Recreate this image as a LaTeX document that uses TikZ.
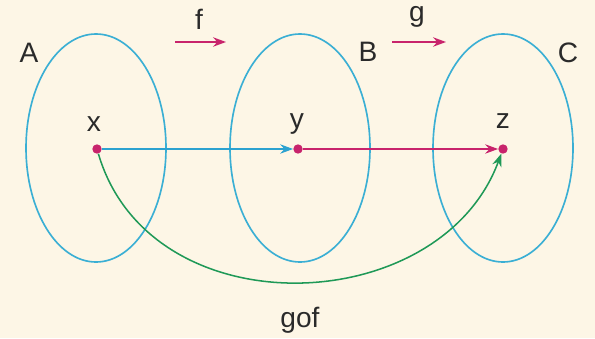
\documentclass[tikz,border=0pt]{standalone}
\usepackage{fontspec}
\setmainfont{Liberation Sans}
\usetikzlibrary{arrows.meta}
\definecolor{bgc}{HTML}{FDF6E6}
\definecolor{setc}{HTML}{3AAFD4}
\definecolor{fc}{HTML}{2CA2D0}
\definecolor{gc}{HTML}{C8246C}
\definecolor{gfc}{HTML}{1F9957}
\definecolor{txt}{HTML}{2A2A2A}
\tikzset{
  setell/.style={draw=setc, line width=1.4pt},
  dotpt/.style={circle, fill=gc, inner sep=0pt, minimum size=8pt},
  lbl/.style={font=\fontsize{24}{28}\selectfont, text=txt, inner sep=0pt},
  arr/.style={line width=1.3pt, -{Stealth[length=11pt,width=8pt]}},
}
\begin{document}
\begin{tikzpicture}[x=0.03cm,y=-0.03cm]
\fill[bgc] (0,0) rectangle (595,338);
\useasboundingbox (0,0) rectangle (595,338);
\draw[setell] (96,148) ellipse [x radius=70, y radius=114];
\draw[setell] (300,148) ellipse [x radius=70, y radius=114];
\draw[setell] (503,148) ellipse [x radius=70, y radius=114];
\node[lbl] (A) at (29,53) {A};
\node[lbl] (B) at (368,52) {B};
\node[lbl] (C) at (568,53) {C};
\node[lbl] (f) at (199,19) {f};
\node[lbl] (g) at (417,17) {g};
\coordinate (f1) at (175,42); \coordinate (f2) at (226,42);
\coordinate (g1) at (392,42); \coordinate (g2) at (446,42);
\draw[arr, draw=gc, fill=gc] (f1) -- (f2);
\draw[arr, draw=gc, fill=gc] (g1) -- (g2);
\node[dotpt] (x) at (97,149) {};
\node[dotpt] (y) at (298,149) {};
\node[dotpt] (z) at (503,149) {};
\node[lbl] (xl) at (94,124) {x};
\node[lbl] (yl) at (297,124) {y};
\node[lbl] (zl) at (503,121) {z};
\draw[arr, draw=fc, fill=fc] (x) -- (y);
\draw[arr, draw=gc, fill=gc] (y) -- (z);
\draw[arr, draw=gfc, fill=none, -{Stealth[length=11pt,width=8pt,fill=gfc]}] (x) .. controls (150,330) and (440,320) .. (z);
\node[lbl] (gof) at (300,320) {gof};
\end{tikzpicture}
\end{document}
